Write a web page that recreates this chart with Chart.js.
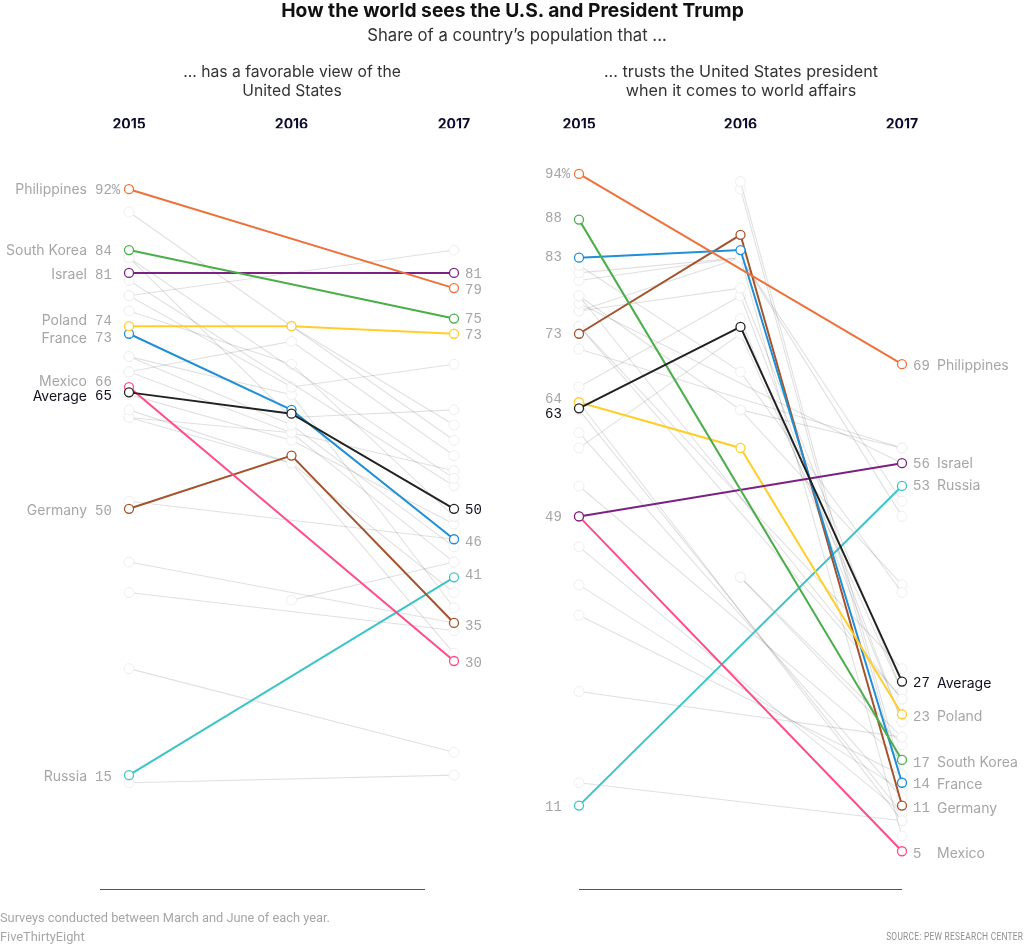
<!DOCTYPE html>
<html>
<head>
<meta charset="utf-8">
<title>How the world sees the U.S. and President Trump</title>
<script src="https://cdn.jsdelivr.net/npm/chart.js@4/dist/chart.umd.min.js"></script>
<style>
  html, body { margin: 0; padding: 0; background: #fff; }
  #page { position: relative; width: 1024px; height: 948px; overflow: hidden; font-family: Inter, sans-serif; }
  #page canvas { position: absolute; top: 0; }
  .txt { position: absolute; white-space: nowrap; text-align: center; }
  .title { left: 0; width: 1025px; top: -2px; font-size: 19.25px; line-height: 24px; font-weight: 700; color: #111; }
  .sub { left: 0; width: 1034px; top: 25px; font-size: 16.7px; line-height: 20px; color: #333; }
  .panel { top: 62px; font-size: 15.7px; line-height: 19px; color: #333; }
  .foot { left: 0; font-family: "Roboto", sans-serif; font-size: 12.8px; color: #a6a6a6; }
  .src { right: 1px; top: 931px; font-family: "Roboto", sans-serif; font-size: 10px; color: #909090; letter-spacing: 0.3px; transform: scaleX(0.84); transform-origin: right center; }
</style>
</head>
<body>
<div id="page">
  <canvas id="favChart" width="512" height="948" style="left:0;width:512px;height:948px"></canvas>
  <canvas id="trustChart" width="512" height="948" style="left:512px;width:512px;height:948px"></canvas>
  <div class="txt title">How the world sees the U.S. and President Trump</div>
  <div class="txt sub">Share of a country’s population that ...</div>
  <div class="txt panel" style="left:132px;width:320px">... has a favorable view of the<br>United States</div>
  <div class="txt panel" style="left:581px;width:320px;font-size:16.2px">... trusts the United States president<br>when it comes to world affairs</div>
  <div class="txt foot" style="top:910px">Surveys conducted between March and June of each year.</div>
  <div class="txt foot" style="top:929px">FiveThirtyEight</div>
  <div class="txt src">SOURCE: PEW RESEARCH CENTER</div>
</div>
<script>
const years = ['2015', '2016', '2017'];

// highlighted countries, same order in both panels
const countries = ['Average', 'Philippines', 'South Korea', 'Israel', 'Poland', 'France', 'Mexico', 'Germany', 'Russia'];
const colors = ['#222222', '#ed713a', '#4aae4a', '#7b2182', '#ffce2b', '#1f8fd6', '#ff4b87', '#a5532d', '#3dc4c6'];

// favorable view of the U.S.
const fav2015 = [65.3, 92, 84, 81, 74, 73, 66, 50, 15];
const fav2016 = [62.5, null, null, null, 74, 63, null, 57, null];
const fav2017 = [50, 79, 75, 81, 73, 46, 30, 35, 41];
const favGray2015 = [89, 83, 83, 80, 78, 78, 76, 70, 70, 68, 68, 65, 63, 62, 62, null, null, 51, 43, 39, 29, 14];
const favGray2016 = [null, null, 62, null, null, 66, 69, 61, 65, 72, 60, 59, 56, 56, 60, 38, 74, null, null, null, null, null];
const favGray2017 = [59, 54, 63, 53, 84, 69, 49, 45, 37, 57, 55, 48, 31, 39, 43, 43, 61, 46, 35, 34, 18, 15];

// trust in the U.S. president
const trust2015 = [63.2, 94, 88, 49, 64, 83, 49, 73, 11];
const trust2016 = [73.9, null, null, null, 58, 84, null, 86, null];
const trust2017 = [27.3, 69, 17, 56, 23, 14, 5, 11, 53];
const trustGray2015 = [82, 81, 80, 78, 78, 77, 76, 76, 74, 74, 71, 66, 64, 63, 60, 58, 53, 45, 40, 36, 26, 14, null, null, null, null, null, null];
const trustGray2016 = [68, 83, 83, 63, null, null, 79, 83, null, null, null, 78, null, null, null, 73, null, null, null, null, null, null, 93, 92, 63, 75, 41, 41];
const trustGray2017 = [39, 51, 7, 58, 25, 56, 26, 49, 29, 25, 58, 22, 9, 10, 12, 26, 17, 10, 13, 15, 20, 9, 15, 14, 40, 22, 19, 20];

// label offsets (px), same order as countries
const favNudgeStart = [3, 0, 0, 1, -6, 4, -6, 1, 1];
const favNudgeEnd = [0, 1, 0, 0, 1, 2, 1, 2, -3];
const trustNudgeStart = [5, -1, -2, 0, -4, -1, null, 0, 1];
const trustNudgeEnd = [1, 1, 2, 0, 2, 1, 2, 2, -1];

const BASE_FONT = '14px Inter';
const NUM_FONT = '14px "Liberation Mono"';

const labelPlugin = {
  id: 'slopeLabels',
  afterDatasetsDraw(chart, args, opts) {
    const { ctx, scales: { x, y } } = chart;
    ctx.save();
    ctx.textBaseline = 'middle';
    const xs = x.getPixelForValue(0);
    const xe = x.getPixelForValue(2);
    countries.forEach((name, i) => {
      ctx.fillStyle = i === 0 ? '#111122' : '#a6a6a6';
      // left hand labels
      if (opts.nudgeStart[i] !== null) {
        const py = y.getPixelForValue(opts.start[i]) + opts.nudgeStart[i] + 1;
        ctx.font = NUM_FONT;
        ctx.textAlign = 'left';
        const num = Math.round(opts.start[i]) + (i === 1 ? '%' : '');
        ctx.fillText(num, xs - 34, py);
        if (opts.namesAtStart) {
          ctx.font = BASE_FONT;
          ctx.textAlign = 'right';
          ctx.fillText(name, xs - 42, py);
        }
      }
      // right hand labels
      const py = y.getPixelForValue(opts.end[i]) + opts.nudgeEnd[i] + 1;
      ctx.font = NUM_FONT;
      ctx.textAlign = 'left';
      ctx.fillText(String(Math.round(opts.end[i])), xe + 11, py);
      if (opts.namesAtEnd) {
        ctx.font = BASE_FONT;
        ctx.fillText(name, xe + 35, py);
      }
    });
    // baseline under the panel
    const by = Math.round(y.getPixelForValue(0)) + 0.5;
    ctx.strokeStyle = '#555555';
    ctx.lineWidth = 1;
    ctx.beginPath();
    ctx.moveTo(opts.ruleFrom, by);
    ctx.lineTo(opts.ruleTo, by);
    ctx.stroke();
    ctx.restore();
  }
};

function makeDatasets(start, mid, end, gs, gm, ge) {
  // earlier datasets are drawn on top, so the colored ones come first
  const sets = countries.map((name, i) => ({
    label: name,
    data: [start[i], mid[i], end[i]],
    borderColor: colors[i],
    backgroundColor: '#fff',
    borderWidth: 2,
    pointRadius: 4.5,
    pointBorderWidth: 1.3,
    pointBackgroundColor: '#fff',
    pointBorderColor: colors[i],
    spanGaps: true,
    tension: 0
  }));
  gs.forEach((v, i) => {
    sets.push({
      label: 'other ' + (i + 1),
      data: [v, gm[i], ge[i]],
      borderColor: 'rgba(0,0,0,0.12)',
      borderWidth: 1.1,
      pointRadius: 5,
      pointBorderWidth: 1,
      pointBackgroundColor: '#fff',
      pointBorderColor: '#eeeeee',
      spanGaps: true,
      tension: 0
    });
  });
  return sets;
}

function makeChart(id, datasets, padLeft, padRight, labelOpts) {
  return new Chart(document.getElementById(id).getContext('2d'), {
    type: 'line',
    data: { labels: years, datasets: datasets },
    options: {
      responsive: false,
      animation: false,
      devicePixelRatio: 1,
      layout: { padding: { left: padLeft, right: padRight, top: 108.3, bottom: 58.7 } },
      plugins: {
        legend: { display: false },
        tooltip: { enabled: false },
        slopeLabels: labelOpts
      },
      scales: {
        x: {
          position: 'top',
          offset: false,
          border: { display: false },
          grid: { display: false, drawTicks: false },
          afterFit(scale) { scale.height = 20; },
          ticks: {
            padding: -5,
            maxRotation: 0,
            autoSkip: false,
            color: '#0b0b2b',
            font: { family: 'Inter', size: 14, weight: '700' }
          }
        },
        y: { display: false, min: 0, max: 100 }
      }
    },
    plugins: [labelPlugin]
  });
}

makeChart('favChart', makeDatasets(fav2015, fav2016, fav2017, favGray2015, favGray2016, favGray2017), 129, 58, {
  start: fav2015, end: fav2017,
  nudgeStart: favNudgeStart, nudgeEnd: favNudgeEnd,
  namesAtStart: true, namesAtEnd: false,
  ruleFrom: 100, ruleTo: 425
});

makeChart('trustChart', makeDatasets(trust2015, trust2016, trust2017, trustGray2015, trustGray2016, trustGray2017), 67, 122, {
  start: trust2015, end: trust2017,
  nudgeStart: trustNudgeStart, nudgeEnd: trustNudgeEnd,
  namesAtStart: false, namesAtEnd: true,
  ruleFrom: 67, ruleTo: 390
});
</script>
</body>
</html>
